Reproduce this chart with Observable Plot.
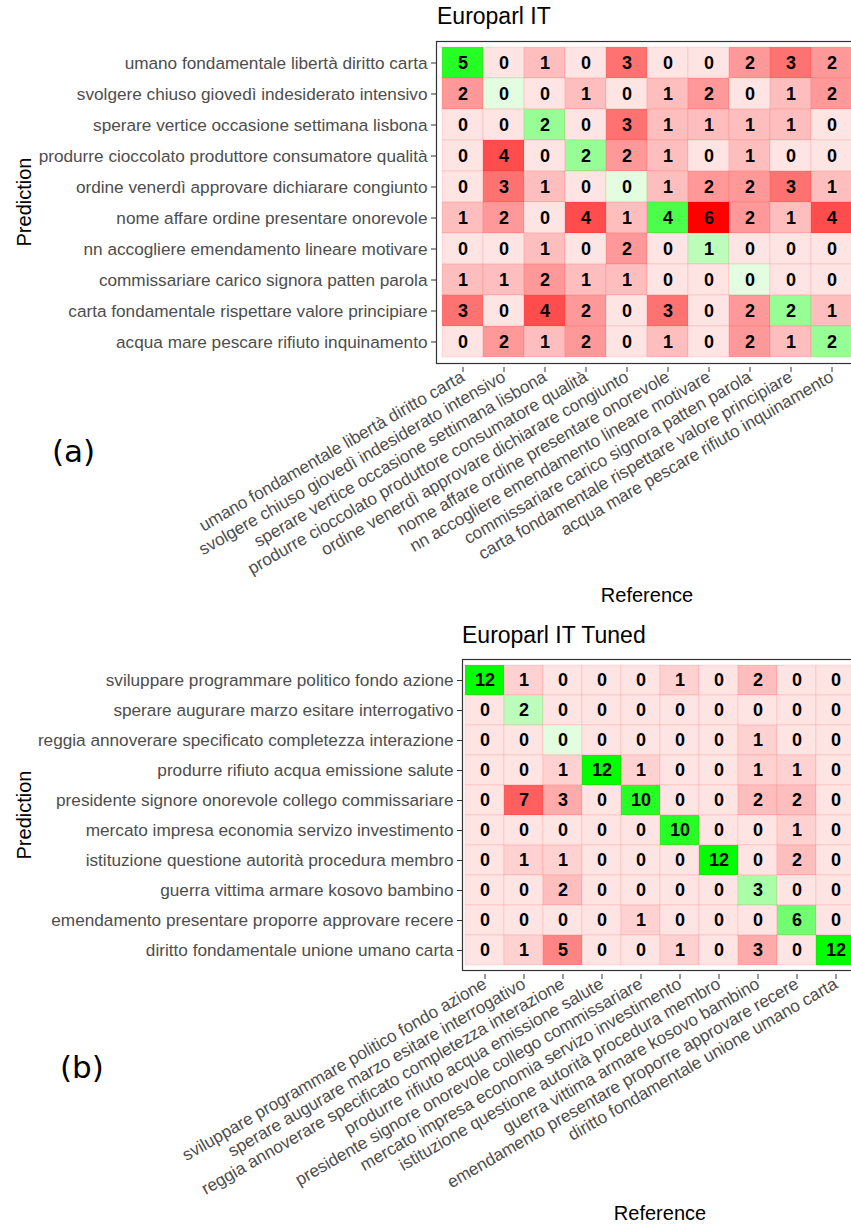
<!DOCTYPE html>
<html><head><meta charset="utf-8">
<script src="https://cdn.jsdelivr.net/npm/d3@7"></script>
<script src="https://cdn.jsdelivr.net/npm/@observablehq/plot@0.6"></script>
<style>
html,body{margin:0;padding:0;background:#fff;overflow:hidden}
body{width:851px;height:1226px;position:relative;font-family:"Liberation Sans",Arial,sans-serif}
.pan{position:absolute;left:0;width:851px;overflow:hidden}
.pan svg{max-width:none !important;display:block}
#overlay{position:absolute;left:0;top:0}
</style></head><body>
<div id="pa" class="pan" style="top:0;height:612px"></div>
<div id="pb" class="pan" style="top:615px;height:611px"></div>
<svg id="overlay" width="851" height="1226"></svg>
<script>
const categoriesA = [
  "umano fondamentale libertà diritto carta",
  "svolgere chiuso giovedì indesiderato intensivo",
  "sperare vertice occasione settimana lisbona",
  "produrre cioccolato produttore consumatore qualità",
  "ordine venerdì approvare dichiarare congiunto",
  "nome affare ordine presentare onorevole",
  "nn accogliere emendamento lineare motivare",
  "commissariare carico signora patten parola",
  "carta fondamentale rispettare valore principiare",
  "acqua mare pescare rifiuto inquinamento"
];
// rows = Prediction, columns = Reference
const countsA = [
  [5,0,1,0,3,0,0,2,3,2],
  [2,0,0,1,0,1,2,0,1,2],
  [0,0,2,0,3,1,1,1,1,0],
  [0,4,0,2,2,1,0,1,0,0],
  [0,3,1,0,0,1,2,2,3,1],
  [1,2,0,4,1,4,6,2,1,4],
  [0,0,1,0,2,0,1,0,0,0],
  [1,1,2,1,1,0,0,0,0,0],
  [3,0,4,2,0,3,0,2,2,1],
  [0,2,1,2,0,1,0,2,1,2]
];
const categoriesB = [
  "sviluppare programmare politico fondo azione",
  "sperare augurare marzo esitare interrogativo",
  "reggia annoverare specificato completezza interazione",
  "produrre rifiuto acqua emissione salute",
  "presidente signore onorevole collego commissariare",
  "mercato impresa economia servizo investimento",
  "istituzione questione autorità procedura membro",
  "guerra vittima armare kosovo bambino",
  "emendamento presentare proporre approvare recere",
  "diritto fondamentale unione umano carta"
];
const countsB = [
  [12,1,0,0,0,1,0,2,0,0],
  [0,2,0,0,0,0,0,0,0,0],
  [0,0,0,0,0,0,0,1,0,0],
  [0,0,1,12,1,0,0,1,1,0],
  [0,7,3,0,10,0,0,2,2,0],
  [0,0,0,0,0,10,0,0,1,0],
  [0,1,1,0,0,0,12,0,2,0],
  [0,0,2,0,0,0,0,3,0,0],
  [0,0,0,0,1,0,0,0,6,0],
  [0,1,5,0,0,1,0,3,0,12]
];
const titles = ["Europarl IT", "Europarl IT Tuned"];

function panel(cats, counts, o) {
  const data = [];
  cats.forEach((p, i) => cats.forEach((r, j) =>
    data.push({pred: p, ref: r, n: counts[i][j], diag: i === j})));
  const max = d3.max(data, d => d.n);
  const redI = d3.interpolateRgb("#ffe4e4", "#ff0000");
  const greenI = d3.interpolateRgb("#e2fde0", "#00ff00");
  const svg = Plot.plot({
    width: 860, height: o.height,
    marginLeft: o.left, marginRight: 2, marginTop: o.top, marginBottom: o.bottom,
    style: {fontFamily: "Liberation Sans, Arial, sans-serif", background: "transparent", overflow: "visible", maxWidth: "none"},
    x: {domain: cats, inset: o.xInset, padding: 0, label: null},
    y: {domain: cats, inset: o.yInset, padding: 0, label: null},
    marks: [
      Plot.cell(data, {x: "ref", y: "pred", fill: d => d.diag ? greenI(d.n / max) : redI(d.n / max),
        stroke: "#ff0000", strokeOpacity: 0.1, strokeWidth: 1}),
      Plot.text(data, {x: "ref", y: "pred", text: "n", fontWeight: "bold", fontSize: 18, fill: "#000"}),
      Plot.frame({stroke: "#333", strokeWidth: 1.2}),
      Plot.axisY({tickSize: 5, tickPadding: 4, fontSize: 17.2, fill: "#4d4d4d", stroke: "#333", label: null}),
      Plot.axisX({tickSize: 5, tickPadding: 3, fontSize: 17.2, fill: "#4d4d4d", stroke: "#333", tickRotate: -30, dy: 4, label: null})
    ]
  });
  svg.style.maxWidth = "none";
  svg.setAttribute("width", 860);
  svg.setAttribute("height", o.height);
  return svg;
}

document.getElementById("pa").appendChild(panel(categoriesA, countsA,
  {height: 612, left: 436, top: 41, bottom: 612 - 363, xInset: 4, yInset: 2}));
document.getElementById("pb").appendChild(panel(categoriesB, countsB,
  {height: 611, left: 462, top: 44, bottom: 611 - 355, xInset: 3, yInset: 3}));

const ov = d3.select("#overlay");
const T = (x, y, s, opt = {}) => ov.append("text").attr("x", x).attr("y", y).text(s)
  .attr("font-family", opt.family || "Liberation Sans, Arial, sans-serif")
  .attr("font-size", opt.size || 20).attr("fill", opt.fill || "#000")
  .attr("text-anchor", opt.anchor || "start")
  .attr("transform", opt.rotate ? `rotate(${opt.rotate},${x},${y})` : null);
T(437, 24, titles[0], {size: 23});
T(462, 643, titles[1], {size: 23});
T(31, 202, "Prediction", {size: 20, anchor: "middle", rotate: -90});
T(31, 815, "Prediction", {size: 20, anchor: "middle", rotate: -90});
T(647, 602, "Reference", {size: 20, anchor: "middle"});
T(660, 1220, "Reference", {size: 20, anchor: "middle"});
T(52, 462, "(a)", {size: 31, family: "DejaVu Sans"});
T(60, 1078, "(b)", {size: 31, family: "DejaVu Sans"});
</script>
</body></html>
